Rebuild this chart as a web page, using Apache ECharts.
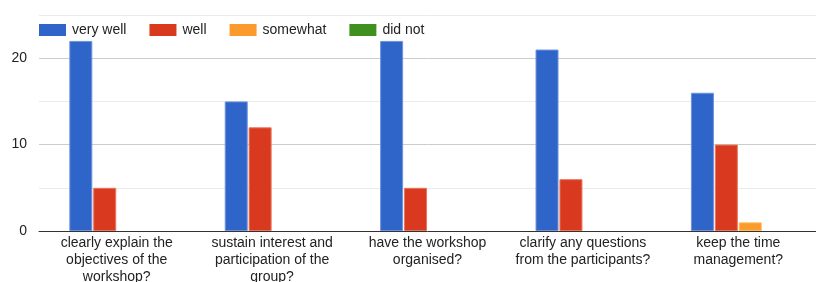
<!DOCTYPE html>
<html><head><meta charset="utf-8">
<script src="https://cdn.jsdelivr.net/npm/echarts@6/dist/echarts.min.js"></script>
<style>html,body{margin:0;padding:0;background:#fff}#c{width:816px;height:282px}</style>
</head><body><div id="c"></div>
<script>
const categories = [
  "clearly explain the\nobjectives of the\nworkshop?",
  "sustain interest and\nparticipation of the\ngroup?",
  "have the workshop\norganised?",
  "clarify any questions\nfrom the participants?",
  "keep the time\nmanagement?"
];
const seriesNames = ["very well", "well", "somewhat", "did not"];
const veryWell = [22, 15, 22, 21, 16];
const well = [5, 12, 5, 6, 10];
const somewhat = [0, 0, 0, 0, 1];
const didNot = [0, 0, 0, 0, 0];
const colors = ["#2f64c9", "#d93a1f", "#fb9a2d", "#3f901e"];
const borders = ["#6f93dd", "#e9765c", "#ffbb55", "#5cb563"];
const values = [veryWell, well, somewhat, didNot];

const chart = echarts.init(document.getElementById('c'), null, {renderer: 'canvas'});
chart.setOption({
  animation: false,
  textStyle: {fontFamily: 'Liberation Sans, Arial, sans-serif'},
  legend: {
    left: 39, top: 23, padding: 0, itemWidth: 27, itemHeight: 12, itemGap: 23,
    icon: 'rect',
    itemStyle: {borderWidth: 0},
    textStyle: {fontSize: 14, color: '#222', padding: [0, 0, 0, 1]},
    data: seriesNames
  },
  grid: {left: 39, right: 0, top: 15, bottom: 51, containLabel: false, outerBoundsMode: 'none'},
  xAxis: {
    type: 'category', data: categories,
    axisTick: {show: false},
    axisLine: {lineStyle: {color: '#333', width: 1}},
    axisLabel: {fontSize: 14, color: '#222', lineHeight: 17, margin: 4, interval: 0}
  },
  yAxis: {
    type: 'value', min: 0, max: 25, interval: 5,
    axisLine: {show: false}, axisTick: {show: false},
    axisLabel: {fontSize: 14, color: '#222', margin: 12,
      formatter: v => (v % 10 === 0 ? String(v) : '')},
    splitLine: {lineStyle: {color: ['#cccccc', '#ebebeb'], width: 1}}
  },
  series: seriesNames.map((n, i) => ({
    name: n, type: 'bar',
    data: values[i].map(v => v === 0 ? {value: v, itemStyle: {borderWidth: 0}} : v),
    barWidth: 23, barGap: '4%',
    itemStyle: {color: colors[i], borderColor: borders[i], borderWidth: 1}
  }))
});
</script></body></html>
